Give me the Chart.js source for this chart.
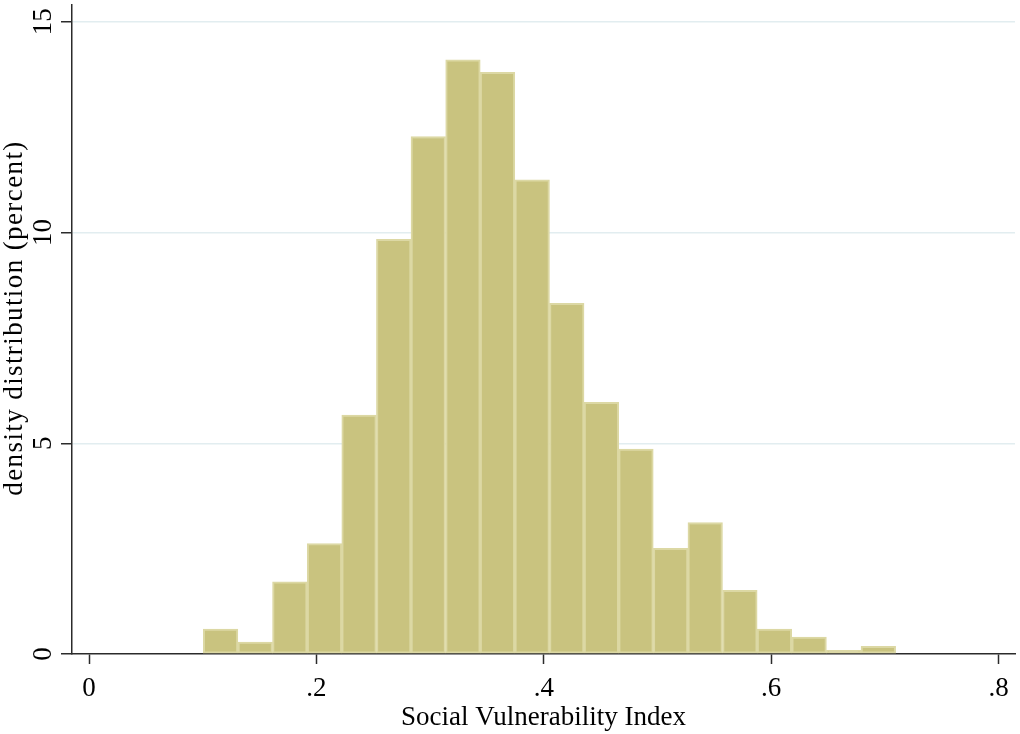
<!DOCTYPE html>
<html>
<head>
<meta charset="utf-8">
<script src="https://cdn.jsdelivr.net/npm/chart.js@4"></script>
<style>
  html, body { margin: 0; padding: 0; background: #fff; }
  #wrap { width: 1020px; height: 734px; }
</style>
</head>
<body>
<div id="wrap"><canvas id="chart"></canvas></div>
<script>
// bin midpoints of the Social Vulnerability Index histogram
const binCenters = [0.1157, 0.1462, 0.1766, 0.2071, 0.2375, 0.2680, 0.2984, 0.3289, 0.3593, 0.3898,
                    0.4202, 0.4507, 0.4811, 0.5116, 0.5420, 0.5725, 0.6029, 0.6334, 0.6638, 0.6943];
// density in percent
const densityPct = [0.59, 0.28, 1.71, 2.62, 5.67, 9.84, 12.28, 14.10, 13.80, 11.25,
                    8.32, 5.97, 4.86, 2.51, 3.12, 1.51, 0.59, 0.40, 0.09, 0.18];
const xTickValues = [0, 0.2, 0.4, 0.6, 0.8];
const xTickLabels = ['0', '.2', '.4', '.6', '.8'];
const yTickValues = [0, 5, 10, 15];
const yTickLabels = ['0', '5', '10', '15'];
const yTitle = 'density distribution (percent)';

const serif = '"Liberation Serif", "DejaVu Serif", serif';
const axisColor = '#2b2b2b';

// rotated y tick labels and the letter-spaced y title, Stata style
const yAxisText = {
    id: 'yAxisText',
    afterDraw(chart) {
        const ctx = chart.ctx;
        const y = chart.scales.y;
        ctx.save();
        ctx.fillStyle = '#000';
        ctx.font = '27px ' + serif;
        ctx.textAlign = 'center';
        ctx.textBaseline = 'middle';
        yTickValues.forEach((v, i) => {
            ctx.save();
            ctx.translate(44, y.getPixelForValue(v));
            ctx.rotate(-Math.PI / 2);
            ctx.fillText(yTickLabels[i], 0, 0);
            ctx.restore();
        });
        ctx.translate(15, 318);
        ctx.rotate(-Math.PI / 2);
        ctx.letterSpacing = '1.4px';
        ctx.fillText(yTitle, 0, 0);
        ctx.restore();
    }
};

new Chart(document.getElementById('chart'), {
    type: 'bar',
    data: {
        datasets: [{
            data: binCenters.map((x, i) => ({ x, y: densityPct[i] })),
            backgroundColor: '#c9c37f',
            borderColor: '#dcd8a4',
            borderWidth: 2,
            borderSkipped: false,
            barPercentage: 1,
            categoryPercentage: 1
        }]
    },
    options: {
        responsive: true,
        maintainAspectRatio: false,
        animation: false,
        layout: { padding: { top: 5, right: 5, bottom: 0, left: 0 } },
        plugins: {
            legend: { display: false },
            tooltip: { enabled: false }
        },
        scales: {
            x: {
                type: 'linear',
                offset: false,
                min: -0.015,
                max: 0.8145,
                afterFit: s => { s.height = 80; },
                afterBuildTicks: s => { s.ticks = xTickValues.map(v => ({ value: v })); },
                ticks: {
                    padding: 9,
                    color: '#000',
                    font: { family: serif, size: 27 },
                    maxRotation: 0,
                    callback: (v) => xTickLabels[xTickValues.indexOf(v)]
                },
                grid: {
                    offset: false,
                    drawOnChartArea: false,
                    drawTicks: true,
                    tickLength: 10,
                    tickColor: axisColor,
                    tickWidth: 1.5
                },
                border: { color: axisColor, width: 1.5 },
                title: {
                    display: true,
                    text: 'Social Vulnerability Index',
                    color: '#000',
                    font: { family: serif, size: 27 },
                    padding: { top: 0, bottom: 0 }
                }
            },
            y: {
                min: 0,
                max: 15.4,
                afterFit: s => { s.width = 72; },
                afterBuildTicks: s => { s.ticks = yTickValues.map(v => ({ value: v })); },
                ticks: { display: false },
                grid: {
                    color: c => c.tick && c.tick.value === 0 ? 'rgba(0,0,0,0)' : '#e2edf0',
                    lineWidth: 1.5,
                    drawTicks: true,
                    tickLength: 11,
                    tickColor: axisColor,
                    tickWidth: 1.5
                },
                border: { color: axisColor, width: 1.5 },
                title: { display: false }
            }
        }
    },
    plugins: [yAxisText]
});
</script>
</body>
</html>
